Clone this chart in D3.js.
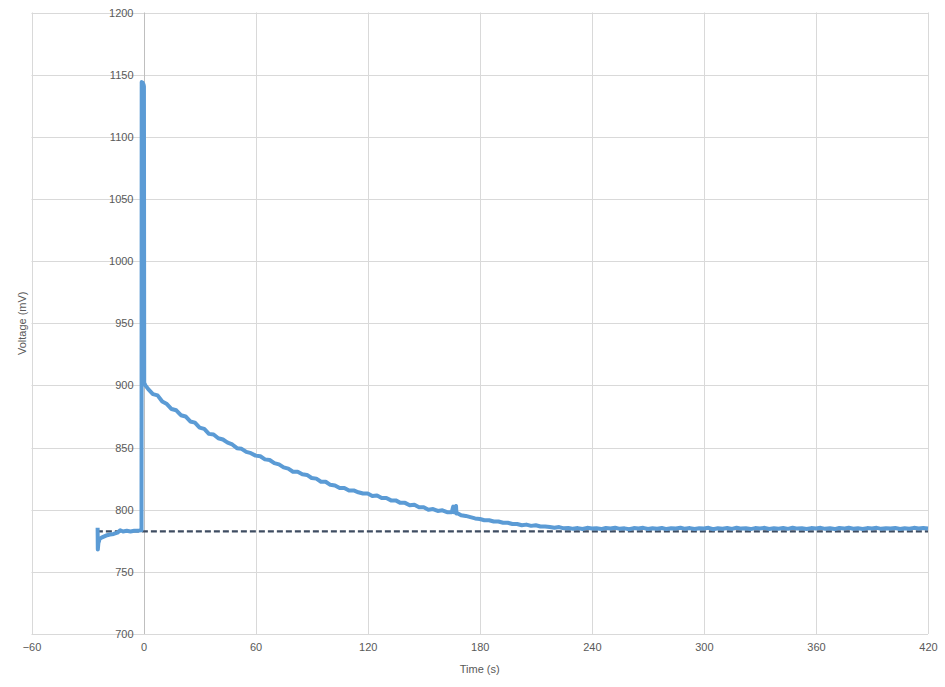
<!DOCTYPE html>
<html>
<head>
<meta charset="utf-8">
<script src="https://cdn.jsdelivr.net/npm/d3@7"></script>
<style>
  html, body { margin: 0; padding: 0; background: #ffffff; }
  svg { display: block; }
</style>
</head>
<body>
<svg id="chart" width="945" height="687"></svg>
<script>
// ---------- Data ----------
const xTicks = [-60, 0, 60, 120, 180, 240, 300, 360, 420];
const yTicks = [700, 750, 800, 850, 900, 950, 1000, 1050, 1100, 1150, 1200];
const xTitle = "Time (s)";
const yTitle = "Voltage (mV)";

// Reference (dashed) baseline level
const baselineVoltage = 782.5;
const baselineStart = -25;
const baselineEnd = 420;

// Pre-trigger and pulse samples
const preTime = [-24.6, -24.5, -24.2, -23.5, -22.5, -21, -19.5, -18, -16, -14, -12.5, -11, -9, -7, -5, -3, -1.5, -1.1, -1.0, -0.5, 0, 0.2, 0.35, 1];
const preVolt = [785.5, 768, 773, 776.5, 777.5, 778.5, 779.5, 780, 780.5, 781.5, 783.5, 782.5, 783, 782.5, 783, 783, 783.5, 783.5, 1144, 1143.5, 1142, 1140.5, 902, 900];

// Relaxation samples, every 2.5 s from 2.5 s to 420 s
const decayStep = 2.5;
const decayVolt = [
  897, 893, 892, 887, 885, 881, 880, 876, 875, 871,
  870, 866, 865, 861, 860.5, 857.5, 856.5, 854, 852.5, 849.5,
  849, 846.5, 845.5, 843.5, 843, 840.5, 840, 837.5, 836.5, 834,
  833, 830.5, 830.5, 828.5, 828, 825.5, 825, 822.5, 822.5, 820,
  819.5, 817.5, 817.5, 815.5, 815.5, 814, 813, 813, 811, 811.5,
  809.5, 809.5, 807.5, 807.5, 805.5, 805.5, 803.5, 804, 802, 802,
  800, 800.5, 799, 799.5, 798, 798, 797, 795.5, 795, 794,
  793, 792.5, 791.5, 791.5, 790.5, 790.5, 789.5, 789.5, 788.5, 788.5,
  787.5, 788, 787, 787.5, 786.5, 786.5, 786, 785.5, 786, 785,
  785.3, 784.6, 785.2, 784.5, 785.4, 784.8, 785.1, 784.4, 785.3, 784.9,
  785.5, 784.6, 785, 784.3, 785.2, 784.8, 785.4, 784.5, 785, 784.7,
  785.3, 784.4, 785.1, 784.9, 785.5, 784.6, 785.2, 784.5, 785, 784.8,
  785.4, 784.3, 785.1, 784.7, 785.3, 784.6, 785.5, 784.8, 785, 784.4,
  785.2, 784.9, 785.4, 784.5, 785.1, 784.7, 785.3, 784.6, 785.5, 784.8,
  785, 784.5, 785.2, 784.9, 785.4, 784.6, 785.1, 784.4, 785.3, 784.8,
  785.5, 784.7, 785, 784.5, 785.2, 784.9, 785.4, 784.6, 785.1, 784.8,
  785.3, 784.5, 785, 784.7, 785.4, 784.8, 785.2, 784.9
];

// Short glitches around 166 s
const glitchTime = [165.8, 166.2, 167.3, 167.6];
const glitchVolt = [802.5, 798, 803, 797.5];

// ---------- Build series ----------
const series = [];
preTime.forEach((t, i) => series.push({ t: t, v: preVolt[i] }));
decayVolt.forEach((v, i) => series.push({ t: (i + 1) * decayStep, v: v }));
glitchTime.forEach((t, i) => series.push({ t: t, v: glitchVolt[i] }));
series.sort((a, b) => a.t - b.t);

// ---------- Layout ----------
const svg = d3.select("#chart");
const plot = { left: 31.5, right: 928, top: 12.5, bottom: 634 };

const x = d3.scaleLinear().domain([-60, 420]).range([plot.left, plot.right]);
const y = d3.scaleLinear().domain([700, 1200]).range([plot.bottom, plot.top]);

const font = "'Liberation Sans', Arial, sans-serif";
const textColor = "#595959";

// Gridlines
const grid = svg.append("g");
grid.selectAll("line.h").data(yTicks).enter().append("line")
  .attr("x1", plot.left).attr("x2", plot.right)
  .attr("y1", d => Math.round(y(d)) + 0.5).attr("y2", d => Math.round(y(d)) + 0.5)
  .attr("stroke", "#d9d9d9").attr("stroke-width", 1);
grid.selectAll("line.v").data(xTicks.filter(d => d !== 0)).enter().append("line")
  .attr("y1", plot.top).attr("y2", plot.bottom)
  .attr("x1", d => Math.round(x(d)) + 0.5).attr("x2", d => Math.round(x(d)) + 0.5)
  .attr("stroke", "#d9d9d9").attr("stroke-width", 1);

// Vertical axis at x = 0
const yAxisX = Math.round(x(0)) + 0.5;
svg.append("line")
  .attr("x1", yAxisX).attr("x2", yAxisX)
  .attr("y1", plot.top).attr("y2", plot.bottom)
  .attr("stroke", "#bfbfbf").attr("stroke-width", 1);

// Y tick labels (left of the x=0 axis)
const yAxis = d3.axisLeft(y).tickValues(yTicks).tickFormat(d3.format("d")).tickSize(0).tickPadding(11);
const yg = svg.append("g").attr("transform", `translate(${yAxisX},0)`).attr("color", textColor).call(yAxis);
yg.select(".domain").remove();
yg.selectAll("text")
  .attr("fill", textColor).style("font-family", font).style("font-size", "11px");

// X tick labels
const xAxis = d3.axisBottom(x).tickValues(xTicks).tickFormat(d3.format("d")).tickSize(0).tickPadding(9);
const xg = svg.append("g").attr("transform", `translate(0,${plot.bottom})`).attr("color", textColor).call(xAxis);
xg.select(".domain").remove();
xg.selectAll("text")
  .attr("fill", textColor).style("font-family", font).style("font-size", "11px");

// Dashed baseline
svg.append("line")
  .attr("x1", x(baselineStart)).attr("x2", x(baselineEnd))
  .attr("y1", y(baselineVoltage)).attr("y2", y(baselineVoltage))
  .attr("stroke", "#3e4c61").attr("stroke-width", 2.2)
  .attr("stroke-dasharray", "6,3");

// Data line
const line = d3.line().x(d => x(d.t)).y(d => y(d.v));
svg.append("path")
  .datum(series)
  .attr("d", line)
  .attr("fill", "none")
  .attr("stroke", "#5b9bd5")
  .attr("stroke-width", 4)
  .attr("stroke-linejoin", "round");

// Axis titles
svg.append("text")
  .attr("x", (plot.left + plot.right) / 2).attr("y", 673)
  .attr("text-anchor", "middle")
  .attr("fill", textColor).style("font-family", font).style("font-size", "11px")
  .text(xTitle);

svg.append("text")
  .attr("transform", `translate(26,${(plot.top + plot.bottom) / 2}) rotate(-90)`)
  .attr("text-anchor", "middle")
  .attr("fill", textColor).style("font-family", font).style("font-size", "11px")
  .text(yTitle);
</script>
</body>
</html>
